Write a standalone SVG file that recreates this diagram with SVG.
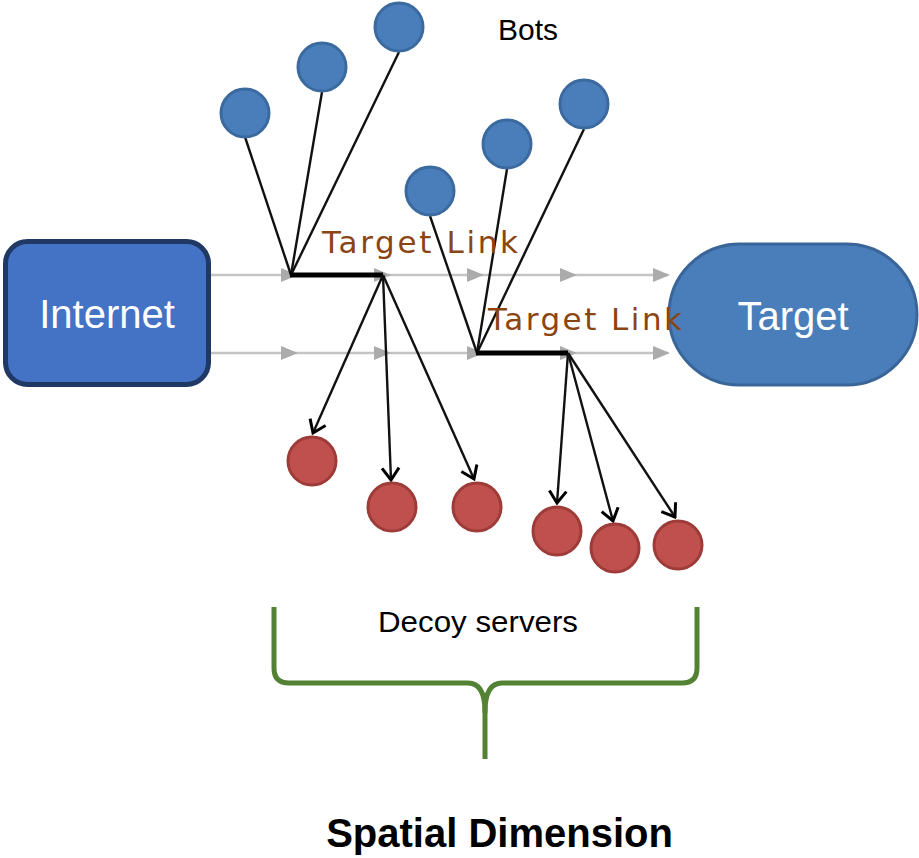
<svg xmlns="http://www.w3.org/2000/svg" width="919" height="858" viewBox="0 0 919 858">
  <defs>
    <style>
      .flow { stroke: #C4C4C4; stroke-width: 2.5; fill: none; }
      .flowhead { fill: #ABABAB; }
      .link { stroke: #111; stroke-width: 2.4; fill: none; }
      .target-link { stroke: #000; stroke-width: 5; fill: none; }
      .attack { stroke: #111; stroke-width: 2.4; fill: none; marker-end: url(#vhead); }
      .bot { fill: #4A7EBB; stroke: #3B6A9F; stroke-width: 3; }
      .decoy { fill: #C0504D; stroke: #9E3C39; stroke-width: 3; }
      .label { font-family: "Liberation Sans", Arial, sans-serif; fill: #000; }
      .white { font-family: "Liberation Sans", Arial, sans-serif; fill: #fff; font-size: 40px; text-anchor: middle; }
      .tl { font-family: "DejaVu Sans", Verdana, sans-serif; fill: #8B4513; font-size: 31px; }
      .brace { stroke: #548235; stroke-width: 5; fill: none; stroke-linejoin: round; }
    </style>
    <marker id="vhead" viewBox="-14 -10 16 20" markerWidth="16" markerHeight="20" refX="0" refY="0" orient="auto" markerUnits="userSpaceOnUse">
      <path d="M-12,-8.5 L0,0 L-12,8.5" fill="none" stroke="#000" stroke-width="3"/>
    </marker>
    <path id="fh" d="M-17,-7 L0,0 L-17,7 Z" class="flowhead"/>
  </defs>

  <!-- traffic flows from Internet toward Target -->
  <g id="flows">
    <line class="flow" x1="211" y1="275" x2="668" y2="275"/>
    <line class="flow" x1="211" y1="353" x2="668" y2="353"/>
    <use href="#fh" x="298" y="275"/>
    <use href="#fh" x="391" y="275"/>
    <use href="#fh" x="484" y="275"/>
    <use href="#fh" x="577" y="275"/>
    <use href="#fh" x="670" y="275"/>
    <use href="#fh" x="298" y="353"/>
    <use href="#fh" x="391" y="353"/>
    <use href="#fh" x="484" y="353"/>
    <use href="#fh" x="577" y="353"/>
    <use href="#fh" x="670" y="353"/>
  </g>

  <!-- connectors -->
  <g id="connectors">
    <line class="link" x1="245" y1="137" x2="291" y2="275"/>
    <line class="link" x1="322" y1="92" x2="291" y2="275"/>
    <line class="link" x1="399" y1="52" x2="291" y2="275"/>
    <line class="link" x1="430" y1="216" x2="477" y2="353"/>
    <line class="link" x1="507" y1="169" x2="477" y2="353"/>
    <line class="link" x1="584" y1="129" x2="477" y2="353"/>
    <polyline class="target-link" points="290,275 383,275"/>
    <polyline class="target-link" points="476,353 568,353"/>
    <line class="attack" x1="383" y1="275" x2="313" y2="433"/>
    <line class="attack" x1="383" y1="275" x2="391" y2="480"/>
    <line class="attack" x1="383" y1="275" x2="474" y2="479"/>
    <line class="attack" x1="568" y1="353" x2="557" y2="503"/>
    <line class="attack" x1="568" y1="353" x2="613" y2="521"/>
    <line class="attack" x1="568" y1="353" x2="675" y2="517"/>
  </g>

  <g id="internet">
    <rect x="5.5" y="241.5" width="203" height="143" rx="22" fill="#4472C4" stroke="#203864" stroke-width="5"/>
    <text class="white" x="107" y="328">Internet</text>
  </g>

  <g id="target">
    <rect x="669" y="244" width="248" height="141" rx="70.5" fill="#4A7EBB" stroke="#3A6598" stroke-width="3"/>
    <text class="white" x="793" y="330">Target</text>
  </g>

  <g id="bots">
    <circle class="bot" cx="245" cy="113" r="24"/>
    <circle class="bot" cx="322" cy="67" r="24"/>
    <circle class="bot" cx="399" cy="27" r="24"/>
    <circle class="bot" cx="430" cy="191" r="24"/>
    <circle class="bot" cx="507" cy="144" r="24"/>
    <circle class="bot" cx="584" cy="104" r="24"/>
    <text class="label" x="498" y="40" font-size="30">Bots</text>
  </g>

  <g id="decoys">
    <circle class="decoy" cx="312" cy="461" r="24"/>
    <circle class="decoy" cx="392" cy="507" r="24"/>
    <circle class="decoy" cx="477" cy="507" r="24"/>
    <circle class="decoy" cx="557" cy="531" r="24"/>
    <circle class="decoy" cx="615" cy="548" r="24"/>
    <circle class="decoy" cx="678" cy="545" r="24"/>
    <text class="label" x="378" y="632" font-size="29" textLength="200" lengthAdjust="spacingAndGlyphs">Decoy servers</text>
  </g>

  <g id="target-links">
    <text class="tl" x="322" y="253" textLength="196" lengthAdjust="spacing">Target Link</text>
    <text class="tl" x="488" y="330" textLength="194" lengthAdjust="spacing">Target Link</text>
  </g>

  <!-- brace grouping the decoy servers -->
  <g id="brace">
    <path class="brace" d="M274,607 L274,668 Q274,683 289,683 L468,683 Q485,683 485,712 Q485,683 502,683 L682,683 Q697,683 697,668 L697,607"/>
    <line class="brace" x1="485" y1="705" x2="485" y2="759"/>
  </g>

  <text class="label" x="499.5" y="847" font-size="40" font-weight="bold" text-anchor="middle">Spatial Dimension</text>
</svg>
